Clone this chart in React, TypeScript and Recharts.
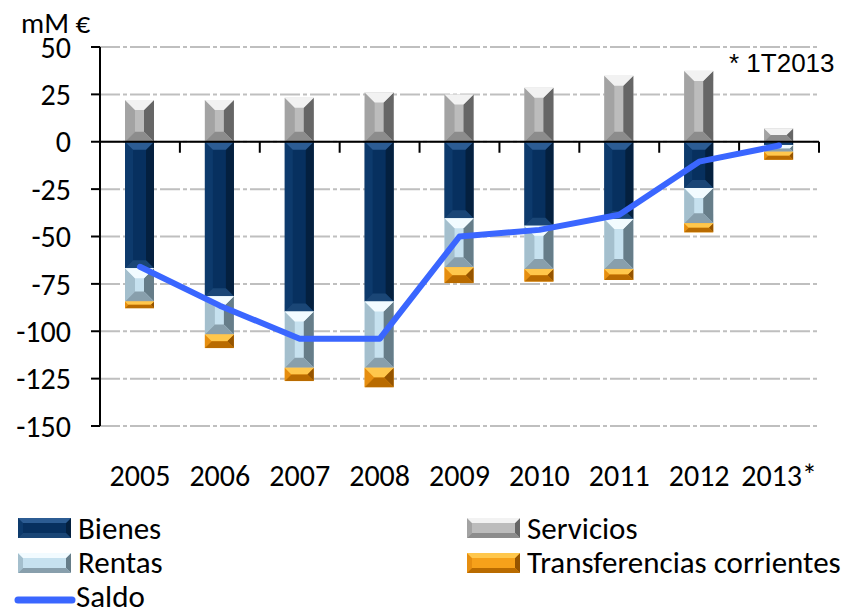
import React from 'react';
import { ComposedChart, Bar, Line, XAxis, YAxis, CartesianGrid, ReferenceLine } from 'recharts';

const years = ['2005', '2006', '2007', '2008', '2009', '2010', '2011', '2012', '2013*'];
const bienes = [-66.7, -81.5, -89.6, -84.3, -40.4, -44.3, -40.7, -24.4, -1.7];
const rentas = [-17.6, -20.2, -29.7, -35.0, -25.8, -22.8, -26.4, -18.6, -3.6];
const transferencias = [-3.5, -7.2, -7.0, -10.2, -8.4, -6.7, -5.8, -4.8, -4.2];
const servicios = [22, 22, 23.2, 26, 25, 28.5, 34.8, 37.4, 7];
const saldo = [-66, -86.5, -104, -104, -50, -46.5, -38.5, -10.5, -2];
const yTicks = [-150, -125, -100, -75, -50, -25, 0, 25, 50];

const data = years.map((year, i) => ({
  year,
  bienes: bienes[i],
  rentas: rentas[i],
  transferencias: transferencias[i],
  servicios: servicios[i],
  saldo: saldo[i],
}));

const font = 'Carlito, "Liberation Sans", Arial, sans-serif';

type Bevel = { face: string; top: string; left: string; right: string; bottom: string };

const palette: Record<string, Bevel> = {
  bienes: { face: '#07305f', top: '#2c5c93', left: '#0d3a6c', right: '#04203f', bottom: '#1a4676' },
  servicios: { face: '#bcbcbc', top: '#f2f2f2', left: '#a3a3a3', right: '#666666', bottom: '#8c8c8c' },
  rentas: { face: '#c6e1ef', top: '#f2fbff', left: '#a4bfcd', right: '#667d89', bottom: '#889fac' },
  transferencias: { face: '#f6a11a', top: '#ffc74c', left: '#e68e10', right: '#955400', bottom: '#b96b00' },
};

const BevelRect = (props: any) => {
  const { x, y, width, height, colors, size } = props;
  const h = Math.abs(height || 0);
  if (!h || !width) return null;
  const t = height < 0 ? y + height : y;
  const l = x;
  const r = x + width;
  const btm = t + h;
  const b = Math.min(size, width / 2, h / 2);
  return (
    <g>
      <rect x={l} y={t} width={width} height={h} fill={colors.face} />
      <polygon points={`${l},${t} ${l + b},${t + b} ${l + b},${btm - b} ${l},${btm}`} fill={colors.left} />
      <polygon points={`${r},${t} ${r - b},${t + b} ${r - b},${btm - b} ${r},${btm}`} fill={colors.right} />
      <polygon points={`${l},${t} ${r},${t} ${r - b},${t + b} ${l + b},${t + b}`} fill={colors.top} />
      <polygon points={`${l},${btm} ${r},${btm} ${r - b},${btm - b} ${l + b},${btm - b}`} fill={colors.bottom} />
    </g>
  );
};

// zero line with the small category separators hanging under it
const ZeroLine = (props: any) => {
  const { x1, y1, x2 } = props;
  const step = (x2 - x1) / years.length;
  return (
    <g>
      <line x1={x1} y1={y1} x2={x2} y2={y1} stroke="#000" strokeWidth={2} />
      {years.map((_, i) => (
        <line key={i} x1={x1 + step * (i + 1)} y1={y1} x2={x1 + step * (i + 1)} y2={y1 + 11} stroke="#000" strokeWidth={2} />
      ))}
    </g>
  );
};

const YearTick = (props: any) => {
  const { x, y, payload } = props;
  return (
    <text x={x} y={y + 60} textAnchor="middle" fontSize={30} fontFamily={font} fill="#000">
      {payload.value}
    </text>
  );
};

const legendItems = [
  { key: 'bienes', label: 'Bienes', left: 18, top: 518, textTop: 515 },
  { key: 'servicios', label: 'Servicios', left: 467, top: 518, textTop: 515 },
  { key: 'rentas', label: 'Rentas', left: 18, top: 553, textTop: 549 },
  { key: 'transferencias', label: 'Transferencias corrientes', left: 467, top: 553, textTop: 549 },
];

const textStyle: React.CSSProperties = {
  position: 'absolute',
  fontFamily: font,
  color: '#000',
  whiteSpace: 'nowrap',
  lineHeight: '26px',
};

export default function App() {
  return (
    <div style={{ position: 'absolute', left: 0, top: 0, width: 852, height: 614, background: '#fff', overflow: 'hidden' }}>
      <ComposedChart
        width={852}
        height={614}
        data={data}
        stackOffset="sign"
        margin={{ top: 47, right: 33, bottom: 158, left: 0 }}
        barSize={29}
      >
        <CartesianGrid vertical={false} stroke="#bfbfbf" strokeWidth={2} strokeDasharray="20 3 4 3" />
        <XAxis dataKey="year" axisLine={false} tickLine={false} tickSize={0} tickMargin={0} height={30} interval={0} tick={<YearTick />} />
        <YAxis
          domain={[-150, 50]}
          ticks={yTicks}
          interval={0}
          width={100}
          axisLine={{ stroke: '#000', strokeWidth: 2 }}
          tickLine={{ stroke: '#000', strokeWidth: 2 }}
          tickSize={9}
          tickMargin={20}
          tick={{ fill: '#000', fontSize: 30, fontFamily: font }}
        />
        <Bar dataKey="bienes" stackId="a" isAnimationActive={false} shape={(p: any) => <BevelRect {...p} colors={palette.bienes} size={8} />} />
        <Bar dataKey="rentas" stackId="a" isAnimationActive={false} shape={(p: any) => <BevelRect {...p} colors={palette.rentas} size={10} />} />
        <Bar dataKey="transferencias" stackId="a" isAnimationActive={false} shape={(p: any) => <BevelRect {...p} colors={palette.transferencias} size={10} />} />
        <Bar dataKey="servicios" stackId="a" isAnimationActive={false} shape={(p: any) => <BevelRect {...p} colors={palette.servicios} size={10} />} />
        <ReferenceLine y={0} shape={<ZeroLine />} />
        <Line
          dataKey="saldo"
          type="linear"
          stroke="#3a66ff"
          strokeWidth={6}
          strokeLinejoin="round"
          strokeLinecap="round"
          dot={false}
          activeDot={false}
          isAnimationActive={false}
        />
      </ComposedChart>

      <div style={{ ...textStyle, left: 21, top: 14, fontSize: 29, lineHeight: '18px' }}>mM €</div>
      <div style={{ ...textStyle, left: 729, top: 50, fontSize: 26, fontFamily: '"Liberation Sans", Arial, sans-serif' }}>* 1T2013</div>

      {legendItems.map((it) => (
        <div key={it.key}>
          <svg style={{ position: 'absolute', left: it.left, top: it.top }} width={53} height={20}>
            <BevelRect x={0} y={0} width={53} height={20} colors={palette[it.key]} size={5} />
          </svg>
          <div style={{ ...textStyle, left: it.left + 60, top: it.textTop, fontSize: 31 }}>{it.label}</div>
        </div>
      ))}
      <svg style={{ position: 'absolute', left: 12, top: 592 }} width={68} height={16}>
        <line x1={6} y1={8} x2={60} y2={8} stroke="#3a66ff" strokeWidth={7} strokeLinecap="round" />
      </svg>
      <div style={{ ...textStyle, left: 76, top: 583, fontSize: 31 }}>Saldo</div>
    </div>
  );
}
